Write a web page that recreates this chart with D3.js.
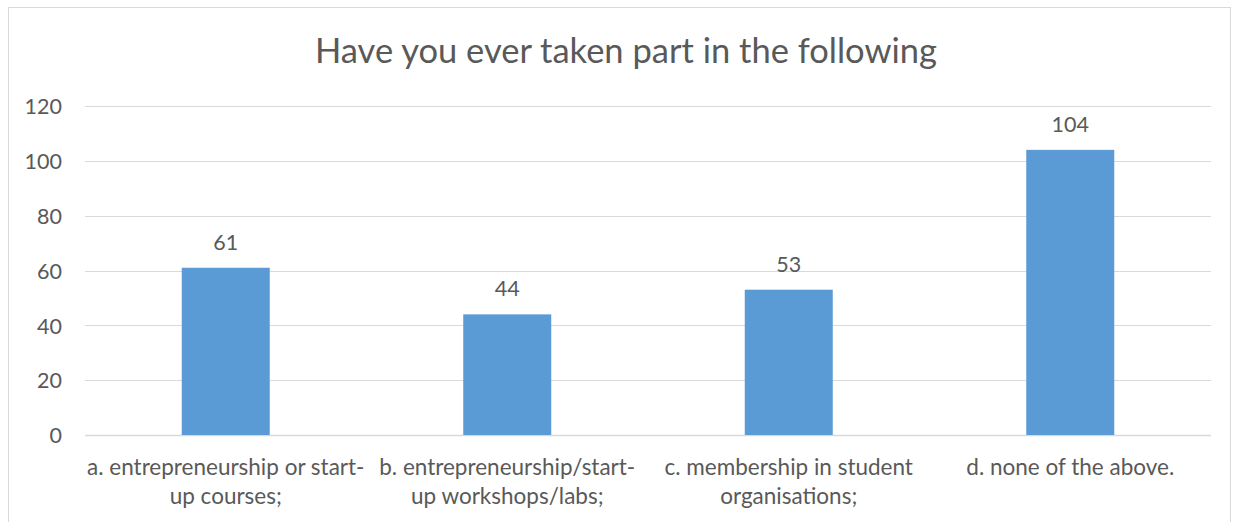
<!DOCTYPE html>
<html>
<head>
<meta charset="utf-8">
<script src="https://cdn.jsdelivr.net/npm/d3@7"></script>
<style>
  html, body { margin: 0; padding: 0; background: #fff; }
  svg { display: block; }
  text { font-family: Lato, "Open Sans", sans-serif; fill: #595959; }
</style>
</head>
<body>
<svg id="chart" width="1240" height="522"></svg>
<script>
// Survey answers
const categories = ["a", "b", "c", "d"];
const categoryLabels = [
  ["a. entrepreneurship or start-", "up courses;"],
  ["b. entrepreneurship/start-", "up workshops/labs;"],
  ["c. membership in student", "organisations;"],
  ["d. none of the above."]
];
const counts = [61, 44, 53, 104];
const yTicks = [0, 20, 40, 60, 80, 100, 120];
const title = "Have you ever taken part in the following";

const plot = { left: 85, right: 1211, top: 106, bottom: 435 };

const svg = d3.select("#chart");

// chart frame
svg.append("rect")
  .attr("x", 8.5).attr("y", 7.5)
  .attr("width", 1222).attr("height", 530)
  .attr("fill", "#fff")
  .attr("stroke", "#D9D9D9")
  .attr("stroke-width", 1);

const x = d3.scaleBand()
  .domain(categories)
  .range([plot.left, plot.right])
  .paddingInner(0.6874)
  .paddingOuter(0.3437);

const y = d3.scaleLinear()
  .domain([0, 120])
  .range([plot.bottom, plot.top]);

// horizontal gridlines
svg.append("g")
  .selectAll("line")
  .data(yTicks)
  .join("line")
  .attr("x1", plot.left).attr("x2", plot.right)
  .attr("y1", d => Math.round(y(d)) + 0.5)
  .attr("y2", d => Math.round(y(d)) + 0.5)
  .attr("stroke", "#D9D9D9")
  .attr("stroke-width", d => d === 0 ? 1.5 : 1);

// y axis labels
const yAxis = d3.axisLeft(y).tickValues(yTicks).tickSize(0).tickPadding(0);
const gy = svg.append("g")
  .attr("transform", `translate(62,0)`)
  .call(yAxis);
gy.select(".domain").remove();
gy.selectAll("text")
  .attr("font-family", "Lato, 'Open Sans', sans-serif")
  .attr("font-size", 21.5)
  .attr("fill", "#595959")
  .attr("dy", "0.36em");

// bars
svg.append("g")
  .selectAll("rect")
  .data(counts)
  .join("rect")
  .attr("x", (d, i) => x(categories[i]))
  .attr("width", x.bandwidth())
  .attr("y", d => y(d))
  .attr("height", d => y(0) - y(d))
  .attr("fill", "#5B9BD5");

// value labels
svg.append("g")
  .selectAll("text")
  .data(counts)
  .join("text")
  .attr("x", (d, i) => x(categories[i]) + x.bandwidth() / 2)
  .attr("y", d => y(d) - 18)
  .attr("text-anchor", "middle")
  .attr("font-size", 21.5)
  .text(d => d);

// category labels
const xc = d3.scaleBand().domain(categories).range([plot.left, plot.right]);
const lab = svg.append("g")
  .selectAll("text")
  .data(categoryLabels)
  .join("text")
  .attr("x", (d, i) => xc(categories[i]) + xc.bandwidth() / 2)
  .attr("y", 475)
  .attr("text-anchor", "middle")
  .attr("font-size", 22.5);
lab.selectAll("tspan")
  .data(d => d)
  .join("tspan")
  .attr("x", function () { return d3.select(this.parentNode).attr("x"); })
  .attr("dy", (d, i) => i === 0 ? 0 : 29)
  .text(d => d);

// title
svg.append("text")
  .attr("x", 626)
  .attr("y", 63)
  .attr("text-anchor", "middle")
  .attr("font-size", 34.5)
  .text(title);
</script>
</body>
</html>
